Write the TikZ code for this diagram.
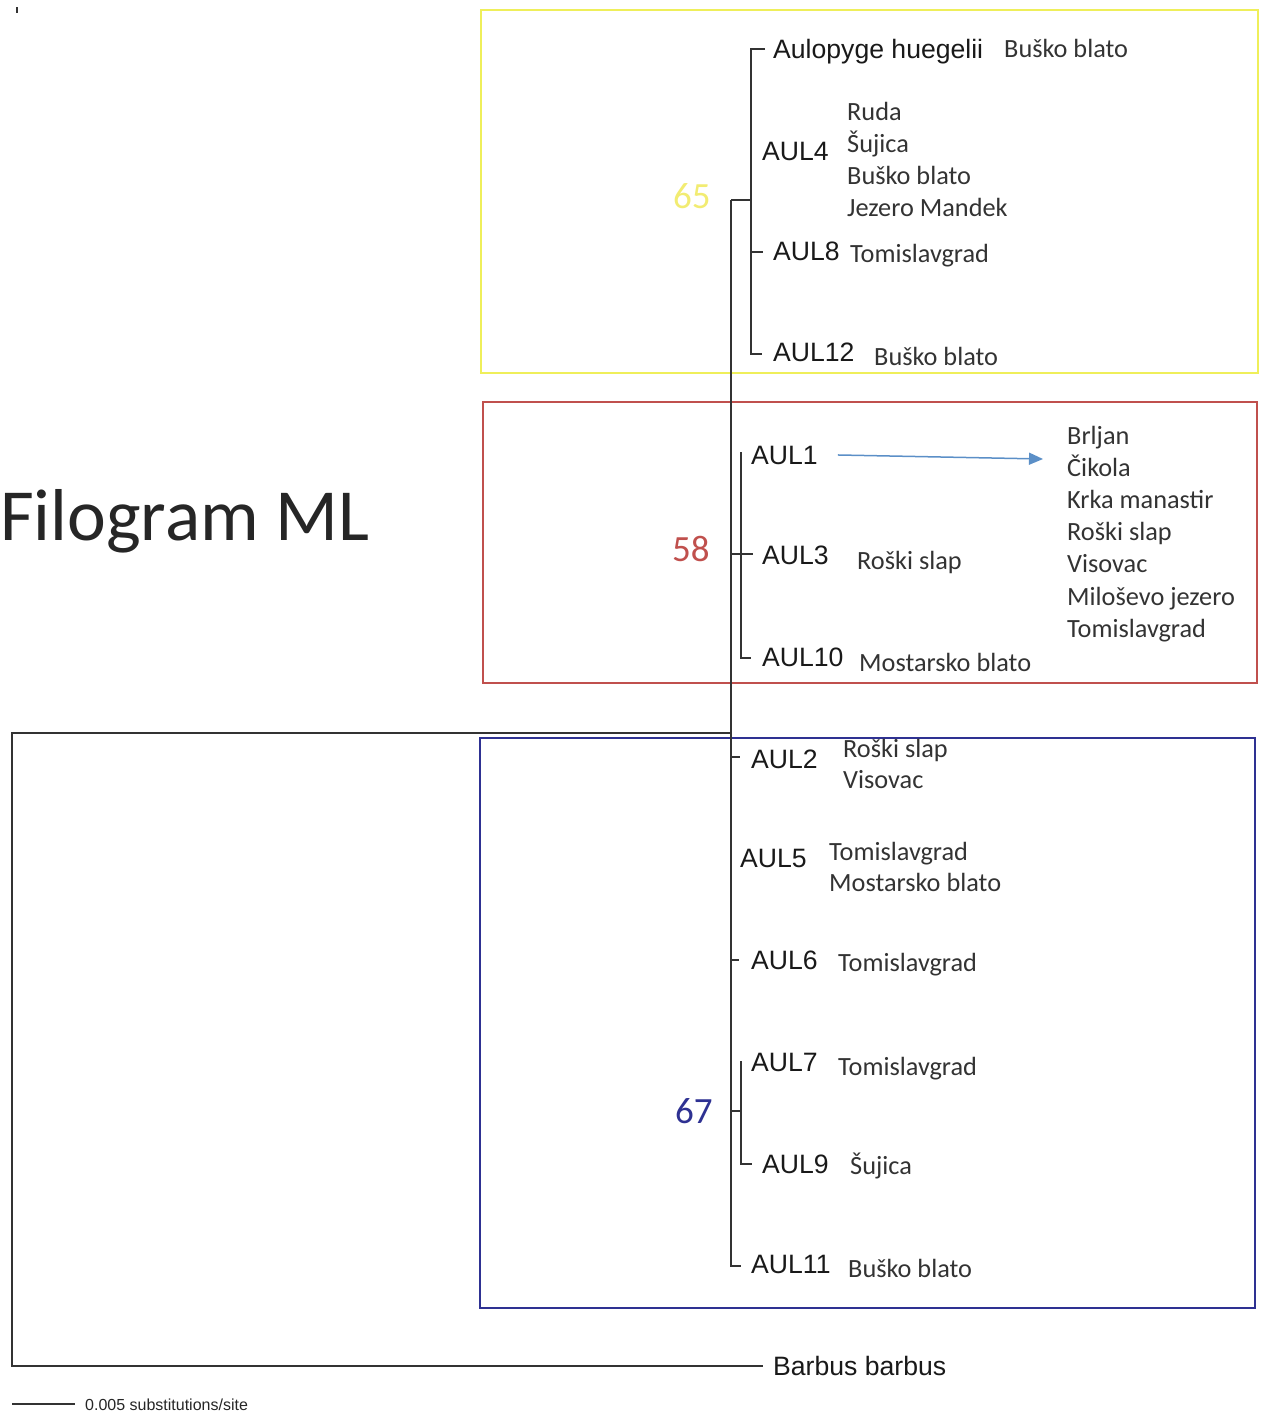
\documentclass[tikz,border=0pt]{standalone}
\usepackage{fontspec}
\setmainfont{Carlito}
\newfontfamily\arialfont{Liberation Sans}
\usetikzlibrary{arrows.meta}

\definecolor{cladeyellow}{HTML}{EFEF5A}
\definecolor{numyellow}{HTML}{F2EC72}
\definecolor{cladered}{HTML}{C0504D}
\definecolor{cladeblue}{HTML}{2E3192}
\definecolor{arrowblue}{HTML}{5B8FC7}
\definecolor{branch}{HTML}{333333}
\definecolor{sitegray}{HTML}{333333}

\tikzset{
  taxon/.style={anchor=base west, inner sep=0pt, text=black!90,
    font=\arialfont\fontsize{26.6}{26}\selectfont},
  site/.style={anchor=base west, inner sep=0pt, text=sitegray,
    font=\fontsize{26.3}{26}\selectfont},
  support/.style={anchor=base west, inner sep=0pt, font=\fontsize{37}{37}\selectfont},
  branchline/.style={draw=branch, line width=2pt},
  cladebox/.style={line width=1.6pt},
}

\begin{document}
\begin{tikzpicture}[x=1pt,y=-1pt]
\useasboundingbox (0,0) rectangle (1264,1414);

% clade boxes
\draw[cladebox, cladeyellow] (481,10) rectangle (1258,373);
\draw[cladebox, cladered] (483,402) rectangle (1257,683);
\draw[cladebox, cladeblue] (480,738) rectangle (1255,1308);

% stray mark
\coordinate (mark-a) at (17,7);
\coordinate (mark-b) at (17,13);
\draw[branch, line width=1.2pt] (mark-a) -- (mark-b);

\node[anchor=base west, inner sep=0pt, text=black!85, font=\fontsize{73.5}{73}\selectfont] (title) at (0,540) {Filogram ML};

% tree points
\coordinate (top) at (731,200);
\coordinate (root) at (731,733);
\coordinate (bot) at (731,1266);
\coordinate (outl) at (12,733);
\coordinate (outb) at (12,1366);
\coordinate (barbusend) at (763,1366);
\coordinate (ycl) at (751,200);
\coordinate (rcl) at (741,554);
\coordinate (bcl) at (741,1111);

\draw[branchline] (top) -- (bot) -- ++(10,0);
\draw[branchline] (root) -- (outl) -- (outb) -- (barbusend);

% yellow clade
\draw[branchline] (top) -- (ycl);
\draw[branchline] (765,49) -- (751,49) -- (751,354) -- (762,354);
\draw[branchline] (751,252) -- ++(12,0);

% red clade
\draw[branchline] (731,554) -- (753,554);
\draw[branchline] (741,452) -- (741,658) -- (751,658);

% blue clade
\foreach \y/\l in {757/9,960/8} % edit here for the short tips
\draw[branchline] (731,\y) -- ++(\l,0);
\draw[branchline] (731,1111) -- (bcl);
\draw[branchline] (741,1061) -- (741,1164) -- (752,1164);

% support values
\node[support, text=numyellow] (sup65) at (673,208) {65};
\node[support, text=cladered] (sup58) at (672,561) {58};
\node[support, text=cladeblue] (sup67) at (675,1123) {67};

% taxa
\node[taxon] (aulopyge) at (773,58) {Aulopyge huegelii};
\node[taxon] (aul4) at (762,160) {AUL4};
\node[taxon] (aul8) at (773,260) {AUL8};
\node[taxon] (aul12) at (773,361) {AUL12};
\node[taxon] (aul1) at (751,464) {AUL1};
\node[taxon] (aul3) at (762,564) {AUL3};
\node[taxon] (aul10) at (762,666) {AUL10};
\node[taxon] (aul2) at (751,768) {AUL2};
\node[taxon] (aul5) at (740,867) {AUL5};
\node[taxon] (aul6) at (751,969) {AUL6};
\node[taxon] (aul7) at (751,1071) {AUL7};
\node[taxon] (aul9) at (762,1173) {AUL9};
\node[taxon] (aul11) at (751,1273) {AUL11};
\node[taxon] (barbus) at (773,1375) {Barbus barbus};

% localities
\node[site] (loc-aulopyge) at (1004,57) {Buško blato};
\foreach \s [count=\i from 0] in {Ruda,Šujica,Buško blato,Jezero Mandek}
\node[site] (loc4-\i) at ({847},{120+32.2*\i}) {\s};
\node[site] (loc8) at (850,262) {Tomislavgrad};
\node[site] (loc12) at (874,365) {Buško blato};
\foreach \s [count=\i from 0] in {Brljan,Čikola,Krka manastir,Roški slap,Visovac,Miloševo jezero,Tomislavgrad}
\node[site] (loc1-\i) at ({1067},{444+32.2*\i}) {\s};
\node[site] (loc3) at (857,569) {Roški slap};
\node[site] (loc10) at (859,671) {Mostarsko blato};
\node[site] (loc2-0) at (843,757) {Roški slap};
\node[site] (loc2-1) at (843,788) {Visovac};
\node[site] (loc5-0) at (829,860) {Tomislavgrad};
\node[site] (loc5-1) at (829,891) {Mostarsko blato};
\node[site] (loc6) at (838,971) {Tomislavgrad};
\node[site] (loc7) at (838,1075) {Tomislavgrad};
\node[site] (loc9) at (850,1174) {Šujica};
\node[site] (loc11) at (848,1277) {Buško blato};

% arrow to the AUL1 localities
\coordinate (aul1tip) at (1043,459);
\draw[arrowblue, line width=1.5pt, -{Triangle[length=14pt,width=12pt]}] ([xshift=20pt]aul1.east) -- (aul1tip);

% scale bar
\coordinate (scale-a) at (12,1404);
\coordinate (scale-b) at (75,1404);
\draw[branch, line width=1.2pt] (scale-a) -- (scale-b);
\node[anchor=base west, inner sep=0pt, text=black!85, font=\arialfont\fontsize{16}{16}\selectfont] (scaletext) at (85,1410) {0.005 substitutions/site};

\end{tikzpicture}
\end{document}
